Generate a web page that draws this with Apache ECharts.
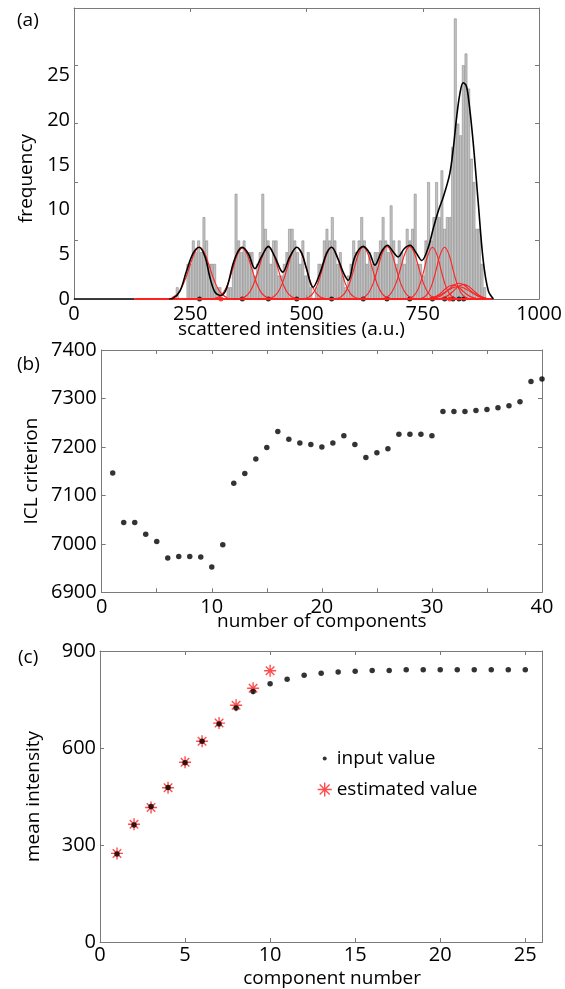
<!DOCTYPE html>
<html><head><meta charset="utf-8">
<script src="https://cdn.jsdelivr.net/npm/echarts@6/dist/echarts.min.js"></script>
<style>html,body{margin:0;padding:0;background:#fff}#c{width:565px;height:989px}</style>
</head><body><div id="c"></div>
<script>
// ---------- panel (a): histogram + mixture fit ----------
const histStart = 222;      // centre of first bin (a.u.)
const histBinWidth = 5.75;  // bin width (a.u.)
const histCounts = [
 1,0,0,0,3,3,5,4,5,4,7,5,3,3,3,1,1,0,0,1,
 1,3,9,5,4,5,4,4,4,2,3,4,9,6,5,3,5,5,2,2,
 3,4,6,6,5,4,3,5,2,4,1,0,1,3,3,5,6,5,7,5,
 3,4,2,1,2,3,5,4,5,7,5,3,4,3,4,4,5,7,5,4,
 8,5,3,5,4,3,6,5,6,9,3,3,2,5,10,5,7,10,7,11,
 6,7,7,13,24,15,14,20,21,18,12,10,6,6,3,1,0
];
const mixtureCurve = [
 [205,0],[213,0.05],[228,0.7],[242,2.4],[256,3.9],[269,4.43],[282,3.6],[292,1.9],[303,0.6],[316,0.3],
 [328,0.9],[342,3.0],[353,4.1],[362,4.43],[375,3.87],[389,2.6],[403,3.6],[418,4.5],[432,3.6],[449,2.3],
 [464,3.6],[479,4.43],[490,3.9],[500,2.6],[514,1.0],[529,2.2],[543,3.9],[554,4.43],[568,3.4],[580,2.2],
 [590,1.6],[604,3.6],[622,4.5],[636,3.9],[647,2.9],[662,4.1],[674,4.6],[687,4.0],[697,3.6],[710,4.3],
 [723,4.6],[735,4.0],[748,3.3],[762,4.43],[773,6.1],[784,7.6],[794,8.7],[808,10.7],[816,13.0],[823,15.6],
 [830,17.6],[837,18.5],[843,18.3],[848,17.3],[858,13.6],[869,8.4],[880,3.3],[891,0.7],[902,0]
];
const flatLeft = [[0,0],[130,0]];
const redBaseline = [[130,0],[900,0]];
const componentCurves = [
 [[210,0.11],[220,0.34],[230,0.85],[240,1.75],[250,2.93],[260,4.0],[270,4.43],[280,4.0],[290,2.93],[300,1.75],[310,0.85],[320,0.34],[330,0.11]],
 [[302,0.05],[312,0.19],[322,0.59],[332,1.41],[342,2.64],[352,3.84],[362,4.35],[372,3.84],[382,2.64],[392,1.41],[402,0.59],[412,0.19],[422,0.05]],
 [[358,0.05],[368,0.19],[378,0.6],[388,1.44],[398,2.7],[408,3.93],[418,4.45],[428,3.93],[438,2.7],[448,1.44],[458,0.6],[468,0.19],[478,0.05]],
 [[419,0.05],[429,0.19],[439,0.6],[449,1.44],[459,2.69],[469,3.91],[479,4.43],[489,3.91],[499,2.69],[509,1.44],[519,0.6],[529,0.19],[539,0.05]],
 [[494,0.03],[504,0.14],[514,0.48],[524,1.27],[534,2.55],[544,3.86],[554,4.43],[564,3.86],[574,2.55],[584,1.27],[594,0.48],[604,0.14],[614,0.03]],
 [[562,0.03],[572,0.14],[582,0.48],[592,1.28],[602,2.56],[612,3.87],[622,4.45],[632,3.87],[642,2.56],[652,1.28],[662,0.48],[672,0.14],[682,0.03]],
 [[613,0.03],[623,0.14],[633,0.49],[643,1.29],[653,2.59],[663,3.92],[673,4.5],[683,3.92],[693,2.59],[703,1.29],[713,0.49],[723,0.14],[733,0.03]],
 [[662,0.03],[672,0.14],[682,0.49],[692,1.29],[702,2.59],[712,3.92],[722,4.5],[732,3.92],[742,2.59],[752,1.29],[762,0.49],[772,0.14],[782,0.03]],
 [[711,0.01],[721,0.06],[731,0.28],[741,0.93],[751,2.22],[761,3.73],[771,4.43],[781,3.73],[791,2.22],[801,0.93],[811,0.28],[821,0.06],[831,0.01]],
 [[737,0.01],[747,0.06],[757,0.28],[767,0.93],[777,2.22],[787,3.73],[797,4.43],[807,3.73],[817,2.22],[827,0.93],[837,0.28],[847,0.06],[857,0.01]],
 [[755,0.01],[765,0.05],[775,0.16],[785,0.39],[795,0.73],[805,1.06],[815,1.2],[825,1.06],[835,0.73],[845,0.39],[855,0.16],[865,0.05],[875,0.01]],
 [[768,0.03],[778,0.1],[788,0.26],[798,0.53],[808,0.89],[818,1.22],[828,1.35],[838,1.22],[848,0.89],[858,0.53],[868,0.26],[878,0.1],[888,0.03]],
 [[778,0.01],[788,0.05],[798,0.17],[808,0.41],[818,0.76],[828,1.1],[838,1.25],[848,1.1],[858,0.76],[868,0.41],[878,0.17],[888,0.05],[898,0.01]],
 [[766,0.07],[776,0.16],[786,0.32],[796,0.54],[806,0.78],[816,0.98],[826,1.05],[836,0.98],[846,0.78],[856,0.54],[866,0.32],[876,0.16],[886,0.07]]
];
const componentMeans = [270,362,418,479,554,622,673,722,771,797,815,828,838];
const emptyComponentMeans = [316,808];
const histTicks = [0,250,500,750,1000];
const freqLabels = [0,5,10,15,20,25];

// ---------- panel (b): ICL criterion ----------
const iclComponents = [1,2,3,4,5,6,7,8,9,10,11,12,13,14,15,16,17,18,19,20,21,22,23,24,25,26,27,28,29,30,31,32,33,34,35,36,37,38,39,40];
const iclValues = [7146,7044,7044,7020,7005,6971,6974,6974,6973,6952,6998,7125,7145,7175,7199,7232,7216,7208,7205,7200,
                   7208,7223,7205,7178,7188,7196,7226,7226,7226,7223,7273,7273,7273,7275,7277,7281,7285,7293,7335,7340];

// ---------- panel (c): mean intensity ----------
const componentNumbers = [1,2,3,4,5,6,7,8,9,10,11,12,13,14,15,16,17,18,19,20,21,22,23,24,25];
const inputMeans = [272,362,419,478,554,621,674,724,775,799,813,825,831,835,837,840,840,842,842,842,842,842,842,842,842];
const estimatedNumbers = [1,2,3,4,5,6,7,8,9,10];
const estimatedMeans = [274,364,416,477,556,621,677,732,785,839];

// ---------- chart ----------
const FONT = 'Open Sans';
const AX = '#7a7a7a';
const RED = '#ff2020';
const STAR = 'path://M0,-6L0,6M-6,0L6,0M-4.24,-4.24L4.24,4.24M-4.24,4.24L4.24,-4.24';
const DOT_ICON = 'path://M0,0M14,14M5,7a2,2 0 1,0 4,0a2,2 0 1,0 -4,0z';

function frameAxis(extra) {
  return Object.assign({
    type: 'value',
    axisLine: {show: true, onZero: false, lineStyle: {color: AX, width: 1}},
    axisTick: {show: true, inside: true, length: 4, lineStyle: {color: AX}},
    axisLabel: {show: false},
    splitLine: {show: false},
    nameMoveOverlap: false
  }, extra);
}
function labelStyle(extra) {
  return Object.assign({show: true, color: '#000', fontFamily: FONT, fontSize: 20, formatter: v => String(v)}, extra);
}
const nameStyle = {color: '#000', fontFamily: FONT, fontSize: 19};

const chart = echarts.init(document.getElementById('c'), null, {renderer: 'canvas'});
const histData = histCounts.map((c, i) => [histStart + histBinWidth * i, c]).filter(d => d[1] > 0);

const series = [];
series.push({type: 'bar', xAxisIndex: 0, yAxisIndex: 0, data: histData, barWidth: 2.67,
  itemStyle: {color: '#c4c4c4', borderColor: '#7c7c7c', borderWidth: 0.5}, silent: true});
series.push({type: 'line', xAxisIndex: 0, yAxisIndex: 0, data: flatLeft, showSymbol: false,
  lineStyle: {color: '#000', width: 1.6}});
series.push({type: 'line', xAxisIndex: 0, yAxisIndex: 0, data: redBaseline, showSymbol: false,
  lineStyle: {color: RED, width: 2}});
componentCurves.forEach(cv => series.push({type: 'line', xAxisIndex: 0, yAxisIndex: 0, data: cv,
  showSymbol: false, smooth: 0.4, lineStyle: {color: RED, width: 1.1}}));
series.push({type: 'line', xAxisIndex: 0, yAxisIndex: 0, data: mixtureCurve, showSymbol: false,
  smooth: 0.35, lineStyle: {color: '#000', width: 1.6}});
series.push({type: 'scatter', xAxisIndex: 0, yAxisIndex: 0, data: componentMeans.map(m => [m, 0]),
  symbolSize: 5, itemStyle: {color: '#000'}});
series.push({type: 'scatter', xAxisIndex: 0, yAxisIndex: 0, data: emptyComponentMeans.map(m => [m, 0]),
  symbolSize: 5, itemStyle: {color: RED}});
// (b)
series.push({type: 'scatter', xAxisIndex: 2, yAxisIndex: 3, symbolSize: 5.5,
  data: iclComponents.map((k, i) => [k, iclValues[i]]), itemStyle: {color: '#000'}});
// (c)
series.push({name: 'estimated value', type: 'scatter', xAxisIndex: 4, yAxisIndex: 5, symbol: STAR, symbolSize: 12,
  data: estimatedNumbers.map((k, i) => [k, estimatedMeans[i]]),
  itemStyle: {color: 'transparent', borderColor: RED, borderWidth: 1.4}});
series.push({name: 'input value', type: 'scatter', xAxisIndex: 4, yAxisIndex: 5, symbolSize: 5.5,
  data: componentNumbers.map((k, i) => [k, inputMeans[i]]), itemStyle: {color: '#000'}});

chart.setOption({
  animation: false,
  backgroundColor: '#fff',
  grid: [
    {left: 74, top: 8, width: 465, height: 291},
    {left: 101.7, top: 350, width: 440.3, height: 242.3},
    {left: 100, top: 651, width: 442.3, height: 292.3}
  ],
  xAxis: [
    frameAxis({gridIndex: 0, position: 'bottom', min: 0, max: 1000, interval: 250,
      axisLabel: labelStyle({margin: 5, formatter: v => histTicks.includes(v) ? String(v) : ''}),
      name: 'scattered intensities (a.u.)', nameLocation: 'middle', nameGap: 21,
      nameTextStyle: Object.assign({padding: [0, 30, 0, 0]}, nameStyle)}),
    frameAxis({gridIndex: 0, position: 'top', min: 0, max: 1000, interval: 250}),
    frameAxis({gridIndex: 1, position: 'bottom', min: 0, max: 40, interval: 5,
      axisLabel: labelStyle({margin: 5, formatter: v => v % 10 === 0 ? String(v) : ''}),
      name: 'number of components', nameLocation: 'middle', nameGap: 20, nameTextStyle: nameStyle}),
    frameAxis({gridIndex: 1, position: 'top', min: 0, max: 40, interval: 5}),
    frameAxis({gridIndex: 2, position: 'bottom', min: 0, max: 26, interval: 5,
      axisLabel: labelStyle({margin: 3}),
      name: 'component number', nameLocation: 'middle', nameGap: 27,
      nameTextStyle: Object.assign({padding: [0, 0, 0, 22]}, nameStyle)}),
    frameAxis({gridIndex: 2, position: 'top', min: 0, max: 26, interval: 5})
  ],
  yAxis: [
    frameAxis({gridIndex: 0, position: 'left', min: 0, max: 24.9, interval: 5}),
    frameAxis({gridIndex: 0, position: 'right', min: 0, max: 24.9, interval: 5}),
    {type: 'value', gridIndex: 0, position: 'left', min: 0, max: 32.55, interval: 5,
      axisLine: {show: false}, axisTick: {show: false}, splitLine: {show: false}, nameMoveOverlap: false,
      axisLabel: labelStyle({margin: 4, formatter: v => freqLabels.includes(v) ? String(v) : ''}),
      name: 'frequency', nameLocation: 'middle', nameRotate: 90, nameGap: 38,
      nameTextStyle: Object.assign({padding: [0, 50, 0, 0]}, nameStyle)},
    frameAxis({gridIndex: 1, position: 'left', min: 6900, max: 7400, interval: 100,
      axisLabel: labelStyle({margin: 5}),
      name: 'ICL criterion', nameLocation: 'middle', nameRotate: 90, nameGap: 61, nameTextStyle: nameStyle}),
    frameAxis({gridIndex: 1, position: 'right', min: 6900, max: 7400, interval: 100}),
    frameAxis({gridIndex: 2, position: 'left', min: 0, max: 900, interval: 300,
      axisLabel: labelStyle({margin: 4}),
      name: 'mean intensity', nameLocation: 'middle', nameRotate: 90, nameGap: 57, nameTextStyle: nameStyle}),
    frameAxis({gridIndex: 2, position: 'right', min: 0, max: 900, interval: 300})
  ],
  legend: {
    orient: 'vertical', left: 317, top: 749, padding: 0, itemWidth: 14, itemHeight: 14, itemGap: 12,
    textStyle: {color: '#000', fontFamily: FONT, fontSize: 19},
    data: [
      {name: 'input value', icon: DOT_ICON, itemStyle: {color: '#000'}},
      {name: 'estimated value', icon: STAR, itemStyle: {color: 'transparent', borderColor: RED, borderWidth: 1.4}}
    ]
  },
  graphic: [
    {type: 'text', left: 17, top: 11, style: {text: '(a)', fill: '#000', font: '19px "Open Sans"'}},
    {type: 'text', left: 17, top: 355, style: {text: '(b)', fill: '#000', font: '19px "Open Sans"'}},
    {type: 'text', left: 18, top: 648, style: {text: '(c)', fill: '#000', font: '19px "Open Sans"'}}
  ],
  series: series
});
</script></body></html>
